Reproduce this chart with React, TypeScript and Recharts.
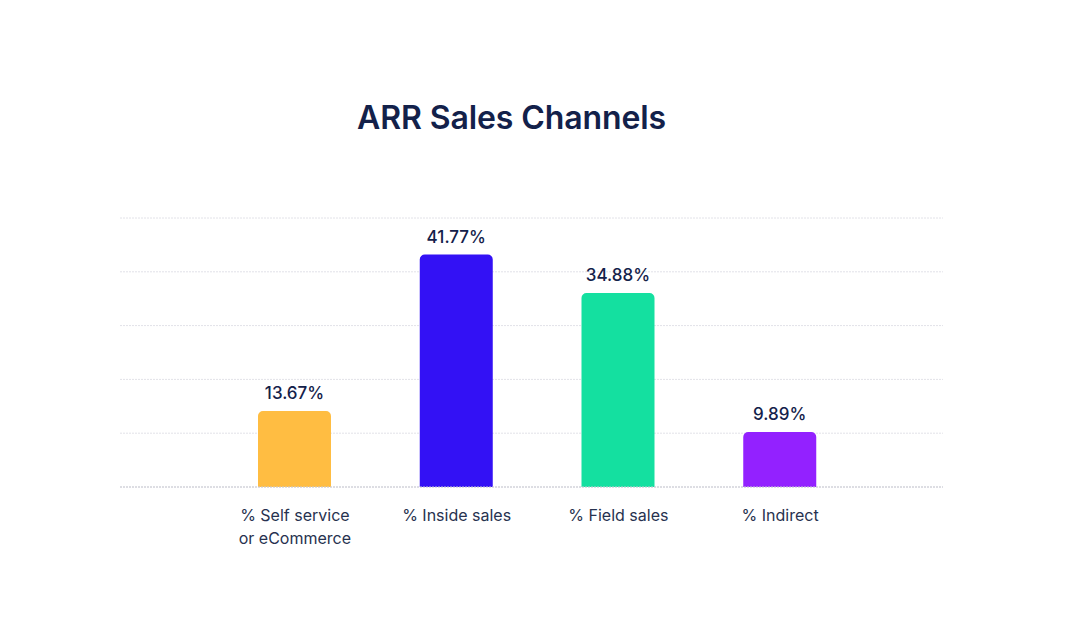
import { BarChart, Bar, XAxis, YAxis, CartesianGrid, Cell, LabelList } from "recharts";

const channels = ["% Self service\nor eCommerce", "% Inside sales", "% Field sales", "% Indirect"];
const shares = [13.67, 41.77, 34.88, 9.89];
const barColors = ["#FFBD42", "#3311F5", "#14E0A0", "#9321FF"];
const gridTicks = [0, 9.67, 19.34, 29.01, 38.68, 48.35];

const data = channels.map((name, i) => ({ name, value: shares[i] }));

const NAVY = "#13214A";

function ChannelTick({ x, y, payload }: any) {
  const lines = String(payload.value).split("\n");
  return (
    <text x={x} y={y} textAnchor="middle" fill="#27324F" fontSize={16} fontFamily="Inter, 'Noto Sans', sans-serif">
      {lines.map((l, i) => (
        <tspan key={i} x={x} dy={i === 0 ? 26 : 23}>
          {l}
        </tspan>
      ))}
    </text>
  );
}

export default function App() {
  return (
    <div
      style={{
        position: "relative",
        width: 1080,
        height: 640,
        background: "#fff",
        fontFamily: "Inter, 'Noto Sans', sans-serif",
        margin: -8,
      }}
    >
      <div
        style={{
          position: "absolute",
          top: 98,
          left: 0,
          width: 1023,
          textAlign: "center",
          fontSize: 32,
          fontWeight: 600,
          color: NAVY,
          letterSpacing: -0.1,
        }}
      >
        ARR Sales Channels
      </div>
      <div style={{ position: "absolute", left: 0, top: 0 }}>
        <BarChart
          width={1080}
          height={640}
          data={data}
          margin={{ top: 218, right: 137, bottom: 0, left: 120 }}
        >
          <CartesianGrid vertical={false} stroke="#E2E2E8" strokeDasharray="2 1" />
          <YAxis hide domain={[0, 48.35]} ticks={gridTicks} width={0} />
          <XAxis
            dataKey="name"
            padding={{ left: 94, right: 82 }}
            axisLine={{ stroke: "#C9CAD3", strokeDasharray: "2 1" }}
            tickLine={false}
            interval={0}
            tick={<ChannelTick />}
            height={153}
          />
          <Bar dataKey="value" barSize={73} radius={[5, 5, 0, 0]} isAnimationActive={false}>
            {data.map((d, i) => (
              <Cell key={d.name} fill={barColors[i]} />
            ))}
            <LabelList
              dataKey="value"
              position="top"
              offset={12}
              formatter={(v: any) => `${Number(v).toFixed(2)}%`}
              style={{ fill: NAVY, fontSize: 17, fontWeight: 500 }}
            />
          </Bar>
        </BarChart>
      </div>
    </div>
  );
}
